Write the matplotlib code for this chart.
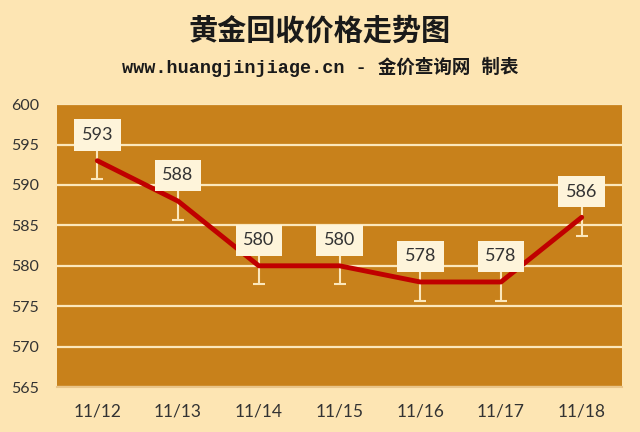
import matplotlib
matplotlib.use('Agg')
import matplotlib.pyplot as plt

# データ
dates = ['11/12', '11/13', '11/14', '11/15', '11/16', '11/17', '11/18']
prices = [593, 588, 580, 580, 578, 578, 586]
err = [2.3, 2.3, 2.3, 2.3, 2.3, 2.3, 2.3]

title_text = '黄金回收价格走势图'
sub_text = 'www.huangjinjiage.cn - 金价查询网 制表'

fig_bg = '#FDE5B3'
plot_bg = '#C8811B'
grid_c = '#FBE7BC'
line_c = '#C00000'
box_c = '#FEF4DA'
text_c = '#333333'

plt.rcParams['font.family'] = ['Lato', 'Noto Sans CJK SC', 'DejaVu Sans']

fig = plt.figure(figsize=(6.4, 4.32), dpi=100, facecolor=fig_bg)
ax = fig.add_axes([0.089, 0.104, 0.883, 0.655])
ax.set_facecolor(plot_bg)

x = list(range(len(dates)))

ax.errorbar(x, prices, yerr=err, fmt='none', ecolor=grid_c, elinewidth=1.5,
            capsize=4, capthick=1.5, zorder=3)
ax.plot(x, prices, color=line_c, linewidth=3.5, solid_capstyle='round', zorder=4)

for xi, p in zip(x, prices):
    ax.annotate(f'{p}', (xi, p), textcoords='offset points', xytext=(0, 18.5),
                ha='center', va='center', fontsize=13, color=text_c, zorder=5,
                bbox=dict(boxstyle='square,pad=0.42', fc=box_c, ec='none'))

ax.set_xlim(-0.5, len(dates) - 0.5)
ax.set_ylim(565, 600)
ax.set_yticks(range(565, 601, 5))
ax.set_xticks(x)
ax.set_xticklabels(dates)

ax.grid(axis='y', color=grid_c, linewidth=1.6, zorder=1)
ax.set_axisbelow(True)
for s in ['top', 'left', 'right']:
    ax.spines[s].set_visible(False)
ax.spines['bottom'].set_color('#E9C58A')
ax.spines['bottom'].set_linewidth(1.5)

ax.tick_params(axis='both', length=0, colors=text_c)
ax.tick_params(axis='y', labelsize=11.5, pad=13)
ax.tick_params(axis='x', labelsize=12.5, pad=12)

fig.text(0.5, 0.93, title_text, ha='center', va='center', fontsize=21,
         fontweight='bold', color='#1a1a1a',
         family=['Noto Sans CJK SC', 'DejaVu Sans'])
fig.text(0.5, 0.845, sub_text, ha='center', va='center', fontsize=13.3,
         fontweight='bold', color='#1a1a1a',
         family=['Liberation Mono', 'Noto Sans CJK SC'])

fig.savefig('out.png', dpi=100, facecolor=fig_bg)
